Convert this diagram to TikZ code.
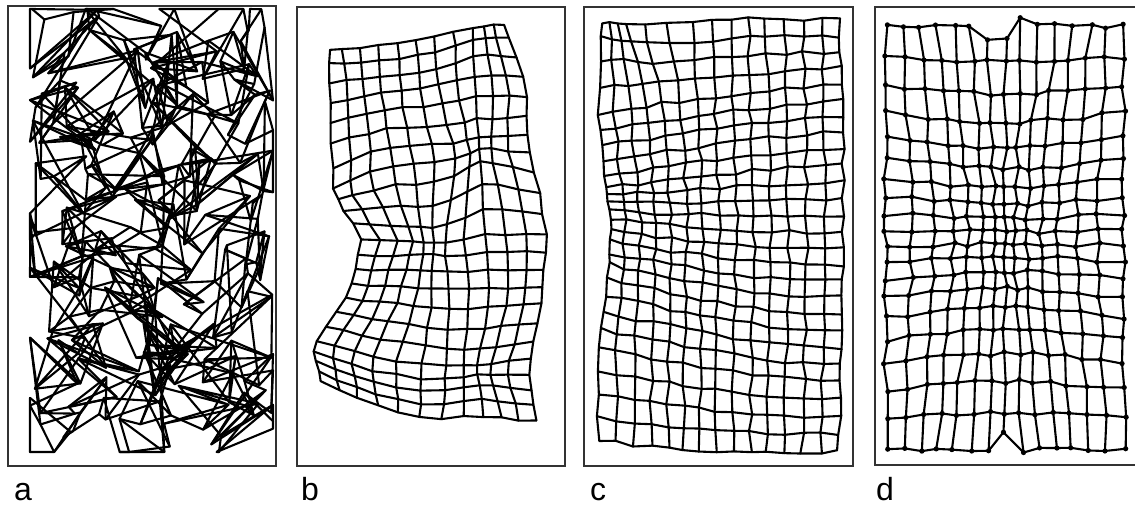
\documentclass[tikz,border=0pt]{standalone}
\usepackage{fontspec}
\setmainfont{Liberation Sans}
\usetikzlibrary{calc}
\tikzset{
  mesh/.style={line width=2.1pt, line join=round, line cap=round, black},
  frame/.style={line width=1.8pt, black!80},
  panellabel/.style={anchor=base west, inner sep=0pt, font=\fontsize{32}{38}\selectfont},
  knot/.style={fill=black},
}
% bilinear mesh from a coarse control lattice, then local pinches
% #1 prefix, #2 coarse cols, #3 coarse rows, #4 X list, #5 Y list, #6 fine cols, #7 fine rows, #8 noise, #9 pinches cx/cy/a/s
\newcommand\buildmesh[9]{%
 \foreach \i in {0,...,#6}{%
  \foreach \j in {0,...,#7}{%
   \pgfmathsetmacro\cu{\i/#6*(#2-1)}%
   \pgfmathtruncatemacro\ca{min(floor(\cu),#2-2)}%
   \pgfmathsetmacro\fu{\cu-\ca}%
   \pgfmathsetmacro\cv{\j/#7*(#3-1)}%
   \pgfmathtruncatemacro\ra{min(floor(\cv),#3-2)}%
   \pgfmathsetmacro\fv{\cv-\ra}%
   \pgfmathtruncatemacro\kA{\ra*#2+\ca}%
   \pgfmathtruncatemacro\kB{\kA+1}%
   \pgfmathtruncatemacro\kC{\kA+#2}%
   \pgfmathtruncatemacro\kD{\kC+1}%
   \pgfmathsetmacro\xA{#4[\kA]}\pgfmathsetmacro\xB{#4[\kB]}%
   \pgfmathsetmacro\xC{#4[\kC]}\pgfmathsetmacro\xD{#4[\kD]}%
   \pgfmathsetmacro\yA{#5[\kA]}\pgfmathsetmacro\yB{#5[\kB]}%
   \pgfmathsetmacro\yC{#5[\kC]}\pgfmathsetmacro\yD{#5[\kD]}%
   \pgfmathparse{(1-\fu)*(1-\fv)*\xA+\fu*(1-\fv)*\xB+(1-\fu)*\fv*\xC+\fu*\fv*\xD}\xdef\mx{\pgfmathresult}%
   \pgfmathparse{(1-\fu)*(1-\fv)*\yA+\fu*(1-\fv)*\yB+(1-\fu)*\fv*\yC+\fu*\fv*\yD}\xdef\my{\pgfmathresult}%
   \foreach \pcx/\pcy/\pa/\ps in {#9}{%
     \pgfmathsetmacro\ddx{abs(\mx-\pcx)/\ps}%
     \pgfmathsetmacro\ddy{abs(\my-\pcy)/\ps}%
     \pgfmathsetmacro\tf{1-\pa*exp(-(\ddx*\ddx+\ddy*\ddy))}%
     \pgfmathparse{\pcx+(\mx-\pcx)*\tf}\xdef\nx{\pgfmathresult}%
     \pgfmathparse{\pcy+(\my-\pcy)*\tf}\xdef\my{\pgfmathresult}%
     \xdef\mx{\nx}}%
   \pgfmathsetmacro\fx{\mx+#8*rand}%
   \pgfmathsetmacro\fy{\my+#8*rand}%
   \coordinate (#1-\i-\j) at (\fx,\fy);
  }}}
\newcommand\drawmesh[3]{%
 \foreach \j in {0,...,#3}{\draw[mesh] (#1-0-\j) \foreach \i in {1,...,#2}{ -- (#1-\i-\j)};}
 \foreach \i in {0,...,#2}{\draw[mesh] (#1-\i-0) \foreach \j in {1,...,#3}{ -- (#1-\i-\j)};}
}
% control lattices (5 columns x 7 rows, row-major from the top)
\def\BXb{{329,375,425,472,507, 331,378,430,480,527, 333,388,440,482,537, 362,405,440,492,546, 350,395,440,495,542, 313,365,430,480,532, 320,372,430,490,537}}
\def\BYb{{50,46,38,26,23, 115,105,97,85,88, 192,172,170,152,160, 240,242,245,235,235, 293,298,302,300,298, 345,362,372,366,365, 382,405,420,421,422}}
\def\BXc{{603,640,713,775,840, 598,655,715,777,842, 605,660,718,778,843, 610,663,720,780,843, 608,662,718,779,843, 600,660,716,777,841, 598,660,717,775,838}}
\def\BYc{{22,25,21,18,20, 122,112,103,96,89, 184,178,170,163,158, 218,225,228,232,233, 268,280,292,300,302, 341,352,362,372,376, 440,448,452,452,452}}
\begin{document}
\begin{tikzpicture}[x=1pt,y=-1pt]
\useasboundingbox (0,0) rectangle (1135,506);
\pgfmathsetseed{2718}
% ---------- panel a: random initial map ----------
\draw[frame] (8,6) rectangle (276,466);
\foreach \i in {0,...,13}{\foreach \j in {0,...,22}{%
  \pgfmathsetmacro\mx{max(30,min(273,42+222*\i/13+46*rand))}%
  \pgfmathsetmacro\my{max(9,min(452,22+418*\j/22+46*rand))}%
  \coordinate (a-\i-\j) at (\mx,\my);}}
\drawmesh{a}{13}{22}
\node[panellabel] (la) at (14,500) {a};
% ---------- panel b ----------
\draw[frame] (297,7) rectangle (565,466);
\buildmesh{b}{5}{7}{\BXb}{\BYb}{11}{22}{1.1}{482/150/0.45/45, 432/242/0.35/35, 478/372/0.4/40, 336/197/0.35/30, 490/28/0.3/35, 330/52/0.3/30}
\drawmesh{b}{11}{22}
\node[panellabel] (lb) at (301,500) {b};
% ---------- panel c ----------
\draw[frame] (584,7) rectangle (853,466);
\buildmesh{c}{5}{7}{\BXc}{\BYc}{14}{26}{2}{603/22/0.45/45}
\drawmesh{c}{14}{26}
\node[panellabel] (lc) at (590,500) {c};
% ---------- panel d ----------
\draw[frame] (1137,7) -| (875,465) -- (1137,465);
\foreach \i in {0,...,14}{\foreach \j in {0,...,19}{%
  \pgfmathsetmacro\uu{(\i-7)/7}%
  \pgfmathsetmacro\vv{(\j-9.5)/9.5}%
  \pgfmathsetmacro\au{abs(\uu)}%
  \pgfmathsetmacro\av{abs(\vv)}%
  \pgfmathsetmacro\wx{0.42*(1-\av*\av)}%
  \pgfmathsetmacro\wy{0.32+0.16*(1-\au*\au)}%
  \pgfmathsetmacro\gx{(1-\wx)+0.5*\wx*\au+0.5*\wx*\au*\au}%
  \pgfmathsetmacro\gy{(1-\wy)+0.5*\wy*\av+0.5*\wy*\av*\av}%
  \pgfmathsetmacro\mx{1005+119*\uu*\gx+2.4*rand}%
  \pgfmathsetmacro\my{238+212*\vv*\gy+2.4*rand}%
  \coordinate (d-\i-\j) at (\mx,\my);}}
\coordinate (d-6-0) at ($(d-6-0)+(0,12)$);
\coordinate (d-7-0) at ($(d-7-0)+(0,11)$);
\coordinate (d-8-0) at ($(d-8-0)+(0,-8)$);
\coordinate (d-7-19) at ($(d-7-19)+(0,-20)$);
\coordinate (d-8-19) at ($(d-8-19)+(0,4)$);
\drawmesh{d}{14}{19}
\foreach \i in {0,...,14}{\foreach \j in {0,...,19}{\fill[knot] (d-\i-\j) circle (2.6pt);}}
\node[panellabel] (ld) at (876,500) {d};
\end{tikzpicture}
\end{document}
